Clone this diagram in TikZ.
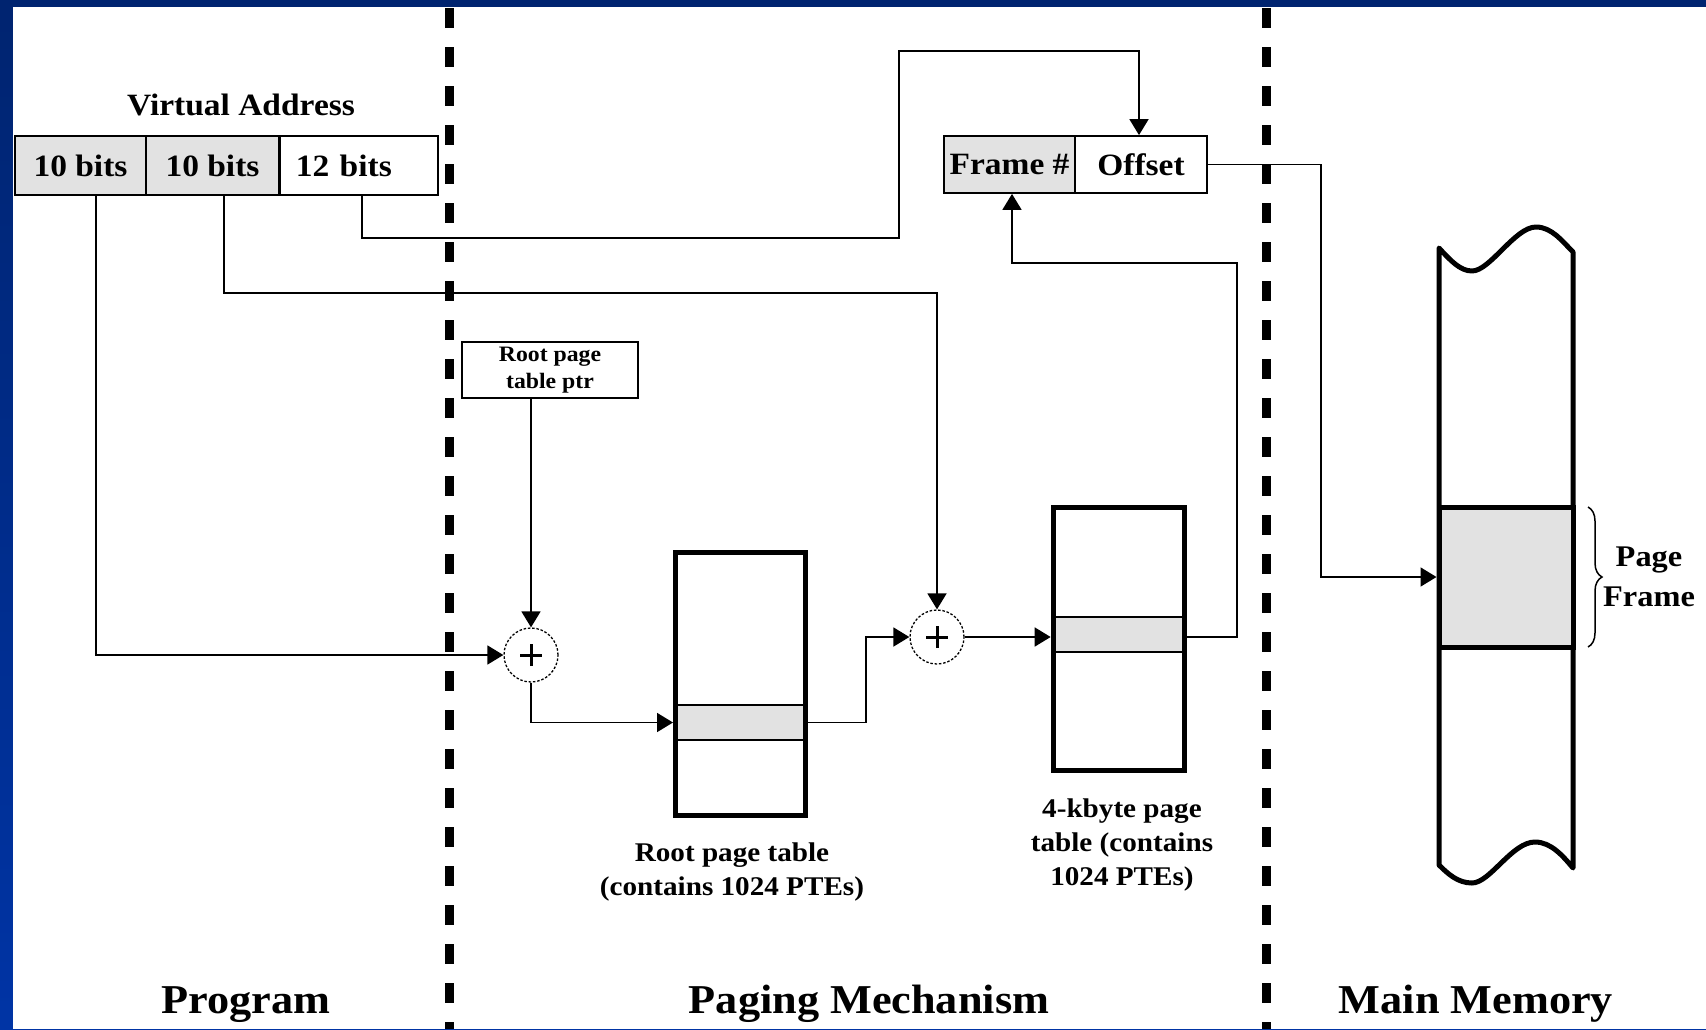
\documentclass[tikz,border=0pt]{standalone}
\usepackage{fontspec}
\setmainfont{Liberation Serif}[FakeStretch=1.08]
\usetikzlibrary{arrows.meta,decorations.pathreplacing,calc}
\definecolor{navyA}{RGB}{0,36,112}
\definecolor{navyB}{RGB}{0,52,165}
\definecolor{cellgray}{RGB}{226,226,226}
\begin{document}
\begin{tikzpicture}[x=1pt,y=-1pt,
  arr/.style={line width=1.8pt,-{Triangle[length=16pt,width=19pt]}},
  sepline/.style={line width=9pt,dash pattern=on 20pt off 19pt},
  field/.style={draw,line width=1.8pt,minimum height=59pt,inner sep=0pt,font=\bfseries\fontsize{31}{35}\selectfont},
  tablebox/.style={draw,line width=5pt,fill=white,inner sep=0pt},
  entry/.style={fill=cellgray,inner sep=0pt,outer sep=0pt},
  adder/.style={circle,draw,line width=1.3pt,dash pattern=on 2.5pt off 1.8pt,minimum size=54pt,inner sep=0pt,fill=white},
  lbl/.style={font=\bfseries\fontsize{27}{34}\selectfont,align=center,inner sep=0pt},
  big/.style={font=\bfseries\fontsize{41}{45}\selectfont,inner sep=0pt,anchor=base}
]
\useasboundingbox (0,0) rectangle (1706,1029);
\shade[top color=navyA,bottom color=navyB] (0,0) rectangle (1706,1029);
\fill[white] (13,7) rectangle (1706,1029);

% separators
\draw[sepline] (449,8) -- (449,1029);
\draw[sepline] (1266,8) -- (1266,1029);

% virtual address
\node[font=\bfseries\fontsize{31}{35}\selectfont,anchor=base,inner sep=0pt] (va) at (241,115) {Virtual Address};
\node[field,fill=cellgray,minimum width=131pt] (b1) at (80.5,165.5) {10 bits};
\node[field,fill=cellgray,minimum width=133pt] (b2) at (212.5,165.5) {10 bits};
\node[field,minimum width=158pt,anchor=west,text width=126pt,inner xsep=16pt,align=left] (b3) at (279,165.5) {12 bits};

% frame / offset
\node[field,fill=cellgray,minimum width=131pt,minimum height=57pt] (fr) at (1009.5,164.5) {Frame \#};
\node[field,minimum width=132pt,minimum height=57pt] (off) at (1141,164.5) {Offset};

% root page table ptr
\node[draw,line width=1.8pt,minimum width=176pt,minimum height=56pt,align=center,inner sep=0pt,font=\bfseries\fontsize{22}{27}\selectfont] (ptr) at (550,370) {Root page\\table ptr};

% adders
\node[adder] (c1) at (531,655) {};
\node[adder] (c2) at (937,637) {};
\foreach \c in {c1,c2}{
  \draw[line width=3pt] ([xshift=-11pt]\c.center) -- ([xshift=11pt]\c.center);
  \draw[line width=3pt] ([yshift=-11pt]\c.center) -- ([yshift=11pt]\c.center);
}

% root page table
\node[tablebox,minimum width=130pt,minimum height=263pt] (rt) at (740.5,684) {};
\node[entry,minimum width=125pt,minimum height=35pt] (re) at (740.5,722.5) {};
\draw[line width=1.8pt] (re.north west) -- (re.north east) (re.south west) -- (re.south east);
\node[lbl] (rtl) at (732,872) {Root page table\\(contains 1024 PTEs)};

% 4-kbyte page table
\node[tablebox,minimum width=131.7pt,minimum height=263pt] (kt) at (1119,639) {};
\node[entry,minimum width=126.7pt,minimum height=35.6pt] (ke) at (1119,634.5) {};
\draw[line width=1.8pt] (ke.north west) -- (ke.north east) (ke.south west) -- (ke.south east);
\node[lbl] (ktl) at (1122,845) {4-kbyte page\\table (contains\\1024 PTEs)};

% main memory
\filldraw[fill=white,line width=5pt,line join=round]
  (1439,248) .. controls (1450,260) and (1460,271) .. (1472,271)
  .. controls (1490,271) and (1515,227) .. (1536,227)
  .. controls (1552,227) and (1563,242) .. (1573,252)
  -- (1573,868)
  .. controls (1563,856) and (1551,842) .. (1535,842)
  .. controls (1512,842) and (1490,883) .. (1472,883)
  .. controls (1458,883) and (1448,874) .. (1439,865) -- cycle;
\node[draw,line width=5pt,fill=cellgray,minimum width=134pt,minimum height=140pt,inner sep=0pt] (pf) at (1506,577) {};
\draw[line width=1.5pt,decorate,decoration={brace,amplitude=14pt}] (1588,507) -- (1588,647);
\node[font=\bfseries\fontsize{30}{40}\selectfont,align=center,inner sep=0pt] (pfl) at (1649,577) {Page\\Frame};

% connectors
\draw[arr] ([xshift=15.5pt]b1.south) |- (c1.west);
\draw[arr] ([xshift=11.5pt]b2.south) -- ++(0,97) -| (c2.north);
\draw[arr] ([xshift=3pt]b3.south) |- (899,238) |- ([xshift=-2pt]off.north |- 0,51) -- ([xshift=-2pt]off.north);
\draw[arr] (ptr.south -| c1.north) -- (c1.north);
\draw[arr] (c1.south) |- (rt.west |- re.west);
\draw[arr] (rt.east |- re.east) -- ++(58,0) |- (c2.west);
\draw[arr] (c2.east) -- (kt.west |- c2.east);
\draw[arr] (kt.east |- c2.east) -- ++(49.5,0) |- ([xshift=2.5pt]fr.south |- 0,263) -- ([xshift=2.5pt]fr.south);
\draw[arr] (off.east) -- (1321,164.5) |- (pf.west);

% bottom labels
\node[big] (prog) at (246,1013) {Program};
\node[big] (pm) at (869,1013) {Paging Mechanism};
\node[big] (mm) at (1476,1013) {Main Memory};
\end{tikzpicture}
\end{document}
